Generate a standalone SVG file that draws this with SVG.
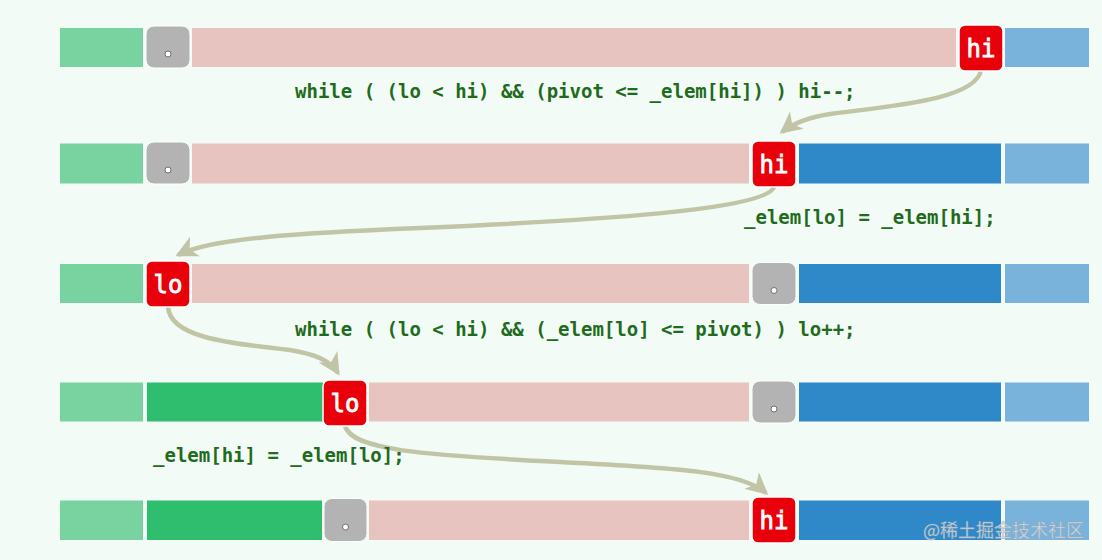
<svg xmlns="http://www.w3.org/2000/svg" width="1102" height="560" viewBox="0 0 1102 560">
<defs>
<style>
.lg{fill:#79d3a0}.dg{fill:#2ebe6e}.pk{fill:#e7c4c0}.lb{fill:#79b2da}.db{fill:#2f89c9}
.gbox{fill:#b3b3b3;stroke:#ffffff;stroke-width:1}
.dot{fill:#ffffff;stroke:#6f6f6f;stroke-width:1}
.rbox{fill:#e8000b;stroke:#ffffff;stroke-width:1.5}
.lbl{font-family:"DejaVu Sans Mono","Liberation Mono",monospace;font-size:24px;fill:#ffffff;stroke:#ffffff;stroke-width:0.8;text-anchor:middle}
.code{font-family:"DejaVu Sans Mono","Liberation Mono",monospace;font-weight:bold;font-size:19px;fill:#216b1c}
.conn{fill:none;stroke:#c2c4a6;stroke-width:4.5;marker-end:url(#ah)}
</style>
<marker id="ah" markerUnits="userSpaceOnUse" markerWidth="24" markerHeight="22" refX="19" refY="11" orient="auto" viewBox="0 0 24 22">
<path d="M0,0 L22,11 L0,22 L6,11 Z" fill="#c2c4a6"/>
</marker>
</defs>
<rect x="0" y="0" width="1102" height="560" fill="#f2fbf6"/>

<g id="row1">
<rect class="lg" x="60" y="28" width="83" height="39"/>
<rect class="pk" x="192" y="28" width="764" height="39"/>
<rect class="lb" x="1005" y="28" width="84" height="39"/>
</g>
<g id="row2">
<rect class="lg" x="60" y="143.5" width="83" height="40"/>
<rect class="pk" x="192" y="143.5" width="557" height="40"/>
<rect class="db" x="799" y="143.5" width="202" height="40"/>
<rect class="lb" x="1005" y="143.5" width="84" height="40"/>
</g>
<g id="row3">
<rect class="lg" x="60" y="264" width="83" height="39"/>
<rect class="pk" x="192" y="264" width="557" height="39"/>
<rect class="db" x="799" y="264" width="202" height="39"/>
<rect class="lb" x="1005" y="264" width="84" height="39"/>
</g>
<g id="row4">
<rect class="lg" x="60" y="382.5" width="83" height="39"/>
<rect class="dg" x="147" y="382.5" width="178" height="39"/>
<rect class="pk" x="369" y="382.5" width="380" height="39"/>
<rect class="db" x="799" y="382.5" width="202" height="39"/>
<rect class="lb" x="1005" y="382.5" width="84" height="39"/>
</g>
<g id="row5">
<rect class="lg" x="60" y="500.5" width="83" height="39.5"/>
<rect class="dg" x="147" y="500.5" width="175" height="39.5"/>
<rect class="pk" x="369" y="500.5" width="380" height="39.5"/>
<rect class="db" x="799" y="500.5" width="202" height="39.5"/>
<rect class="lb" x="1005" y="500.5" width="84" height="39.5"/>
</g>

<g id="connectors">
<path class="conn" d="M981,70 C976,100 890,106 830,114 C805,118 792,124 782,132"/>
<path class="conn" d="M774,187 C766,210 600,220 420,228 C300,233 212,238 178,255"/>
<path class="conn" d="M168,307 C170,336 222,343 290,350 C314,354 330,360 338,373"/>
<path class="conn" d="M345,426 C352,450 420,455 560,462 C680,468 742,472 766,493"/>
</g>

<g id="pivot1"><rect class="gbox" x="146" y="26" width="44" height="42" rx="8"/><circle class="dot" cx="168" cy="54" r="3"/></g>
<g id="hi1"><rect class="rbox" x="959" y="25" width="44" height="46" rx="6"/><text class="lbl" x="981" y="56.5">hi</text></g>

<g id="pivot2"><rect class="gbox" x="146" y="142" width="44" height="42" rx="8"/><circle class="dot" cx="168" cy="170" r="3"/></g>
<g id="hi2"><rect class="rbox" x="752" y="141" width="44" height="46" rx="6"/><text class="lbl" x="774" y="172.5">hi</text></g>

<g id="lo3"><rect class="rbox" x="146" y="261" width="44" height="46" rx="6"/><text class="lbl" x="168" y="292.5">lo</text></g>
<g id="pivot3"><rect class="gbox" x="752" y="262.5" width="44" height="42" rx="8"/><circle class="dot" cx="774" cy="290.5" r="3"/></g>

<g id="lo4"><rect class="rbox" x="323" y="380" width="44" height="46" rx="6"/><text class="lbl" x="345" y="411.5">lo</text></g>
<g id="pivot4"><rect class="gbox" x="752" y="381" width="44" height="42" rx="8"/><circle class="dot" cx="774" cy="409" r="3"/></g>

<g id="pivot5"><rect class="gbox" x="324" y="498.5" width="43" height="43" rx="8"/><circle class="dot" cx="345.5" cy="527" r="3"/></g>
<g id="hi5"><rect class="rbox" x="752" y="497" width="44" height="46" rx="6"/><text class="lbl" x="774" y="528.5">hi</text></g>

<g id="code">
<text class="code" x="295" y="98">while ( (lo &lt; hi) &amp;&amp; (pivot &lt;= _elem[hi]) ) hi--;</text>
<text class="code" x="744" y="224">_elem[lo] = _elem[hi];</text>
<text class="code" x="295" y="336">while ( (lo &lt; hi) &amp;&amp; (_elem[lo] &lt;= pivot) ) lo++;</text>
<text class="code" x="153" y="462">_elem[hi] = _elem[lo];</text>
</g>

<text x="923" y="537" font-family="'Noto Sans CJK SC',sans-serif" font-size="18" fill="#dfe4ea" fill-opacity="0.85" stroke="#9aa3ad" stroke-width="0.4">@稀土掘金技术社区</text>
</svg>
